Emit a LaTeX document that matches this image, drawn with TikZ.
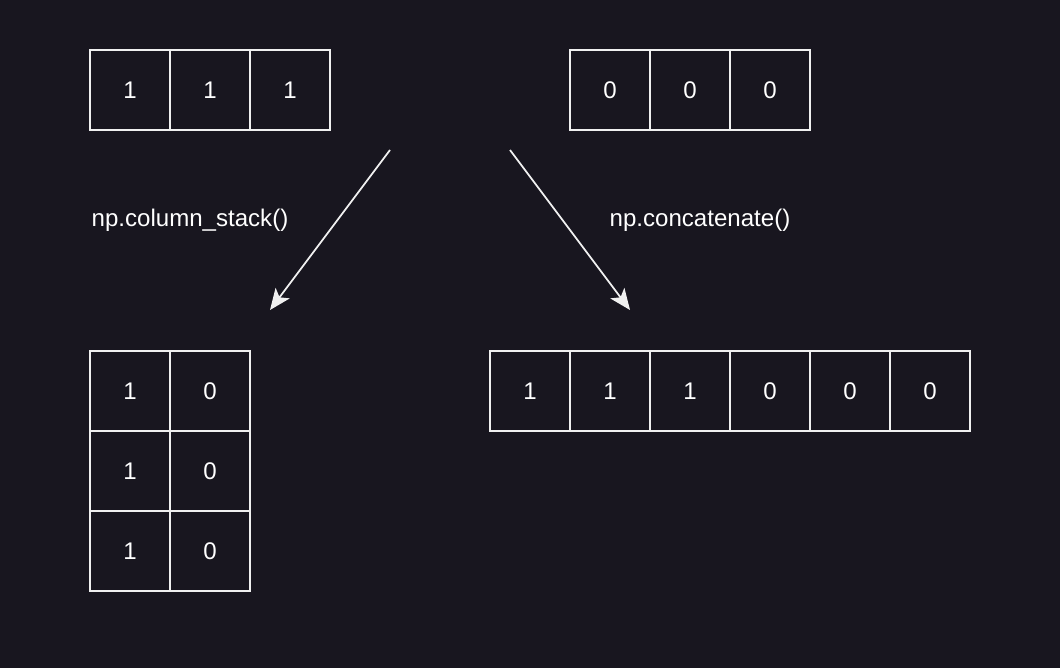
\documentclass[tikz,border=0pt]{standalone}
\usepackage{fontspec}
\setmainfont{Liberation Sans}
\usetikzlibrary{arrows.meta}
\definecolor{bgdark}{RGB}{24,22,31}
\definecolor{lineway}{RGB}{240,240,240}
\tikzset{
	cell/.style={draw=lineway, line width=1.1pt, minimum size=1.6cm, inner sep=0pt, text=white, font=\fontsize{13.7}{16}\selectfont},
	opname/.style={text=white, font=\fontsize{13.7}{16}\selectfont},
	flow/.style={draw=lineway, line width=1pt, -{Stealth[length=12pt, width=10pt, inset=3pt]}}
}
\begin{document}
\begin{tikzpicture}[x=0.02cm, y=-0.02cm]
		\fill[bgdark] (0, 0) rectangle (1060, 668);
		\useasboundingbox (0, 0) rectangle (1060, 668);
		% first array
		\node[cell] (a1) at (130, 90) {1};
		\node[cell] (a2) at (210, 90) {1};
		\node[cell] (a3) at (290, 90) {1};
		% second array
		\node[cell] (b1) at (610, 90) {0};
		\node[cell] (b2) at (690, 90) {0};
		\node[cell] (b3) at (770, 90) {0};
		% column_stack result
		\node[cell] (cs11) at (130, 391) {1};
		\node[cell] (cs12) at (210, 391) {0};
		\node[cell] (cs21) at (130, 471) {1};
		\node[cell] (cs22) at (210, 471) {0};
		\node[cell] (cs31) at (130, 551) {1};
		\node[cell] (cs32) at (210, 551) {0};
		% concatenate result
		\node[cell] (cc1) at (530, 391) {1};
		\node[cell] (cc2) at (610, 391) {1};
		\node[cell] (cc3) at (690, 391) {1};
		\node[cell] (cc4) at (770, 391) {0};
		\node[cell] (cc5) at (850, 391) {0};
		\node[cell] (cc6) at (930, 391) {0};
		% labels
		\node[opname] (lcs) at (190, 220) {np.column\_stack()};
		\node[opname] (lcc) at (700, 220) {np.concatenate()};
		% arrows
		\coordinate (csfrom) at (390, 150);
		\coordinate (csto) at (270, 310);
		\coordinate (ccfrom) at (510, 150);
		\coordinate (ccto) at (630, 310);
		\draw[flow] (csfrom) -- (csto);
		\draw[flow] (ccfrom) -- (ccto);
	\end{tikzpicture}
\end{document}
